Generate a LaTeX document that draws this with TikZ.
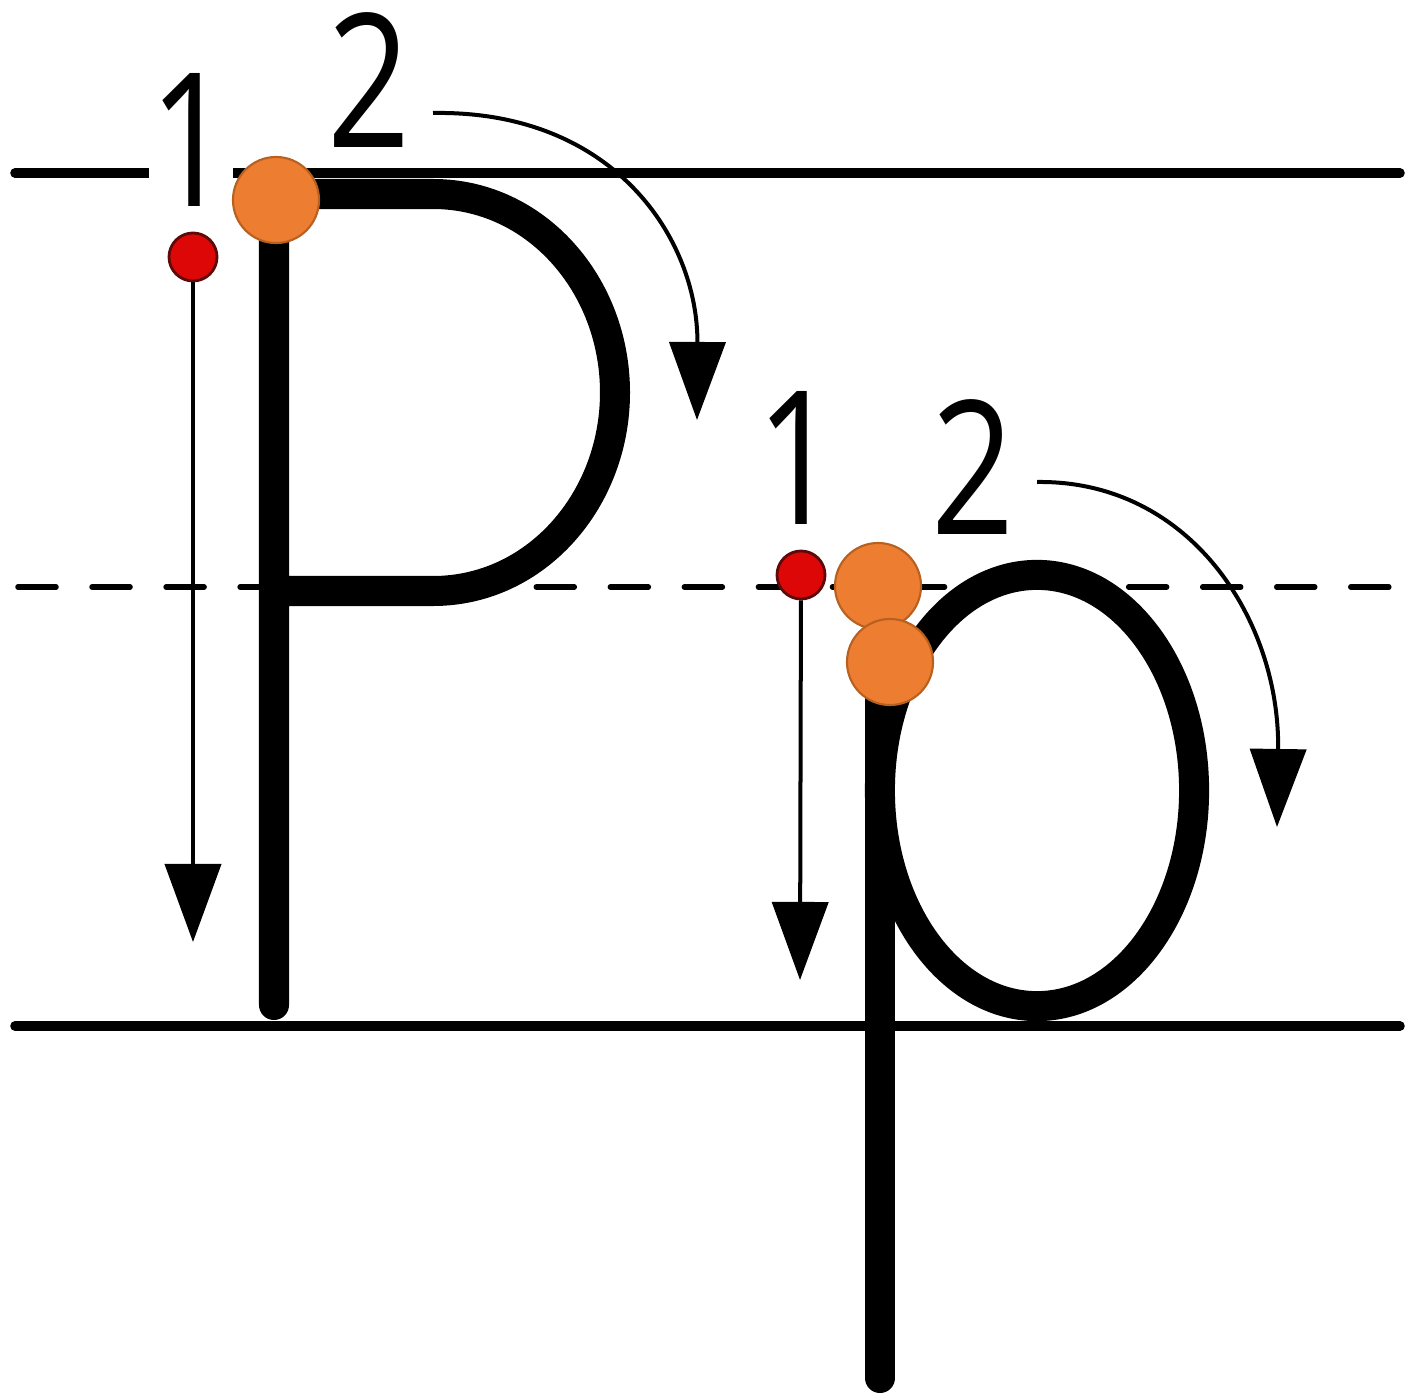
\documentclass[tikz,border=0pt]{standalone}
\usepackage{fontspec}
\newfontfamily\digitfont[FakeStretch=0.78]{Open Sans}
\usetikzlibrary{arrows.meta}
\definecolor{dotorange}{HTML}{ED7D31}
\definecolor{dotorangeline}{HTML}{B8601F}
\definecolor{dotred}{HTML}{DD0707}
\definecolor{dotredline}{HTML}{5E0A0A}

\begin{document}
\begin{tikzpicture}[
  x=0.01cm, y=-0.01cm,
  rule/.style={line width=0.95mm, line cap=round},
  midrule/.style={line width=0.55mm, line cap=round, dash pattern=on 3.8mm off 3.6mm},
  letterstroke/.style={line width=3mm, line cap=round, line join=round},
  num/.style={font=\digitfont\fontsize{53}{53}\selectfont, inner sep=0pt, fill=white},
  startdot/.style={circle, fill=dotorange, draw=dotorangeline, line width=0.6pt,
                   minimum size=8.6mm, inner sep=0pt},
  reddot/.style={circle, fill=dotred, draw=dotredline, line width=0.8pt,
                 minimum size=4.8mm, inner sep=0pt},
  strokearrow/.style={line width=0.4mm, -{Triangle[width=5.6mm,length=7.8mm]}}
]
\useasboundingbox (0,0) rectangle (1409,1397);

% guide lines
\draw[rule] (15,173) -- (1400,173);
\draw[midrule] (18,587) -- (1390,587);
\draw[rule] (15,1026) -- (1400,1026);

% capital P
\draw[letterstroke] (274,1005) -- (274,194) -- (433,194)
  .. controls (536,194) and (615,285) .. (615,392.5)
  .. controls (615,500) and (536,591) .. (433,591) -- (274,591);

% small p
\draw[letterstroke] (880,662) -- (880,1378);
\draw[letterstroke] (1037,790.5) ellipse [x radius=1.57cm, y radius=2.155cm];

% stroke numbers
\node[num] (oneP) at (191,140) {1};
\node[num] (twoP) at (369,80) {2};
\node[num] (onep) at (798,458) {1};
\node[num] (twop) at (973,467) {2};

% first strokes
\node[reddot] (redP) at (193,257) {};
\node[reddot] (redp) at (801,575) {};
\coordinate (endP) at (193,942);
\coordinate (endp) at (800,980);
\draw[strokearrow] (redP) -- (endP);
\draw[strokearrow] (redp) -- (endp);

% second strokes
\coordinate (arcP) at (433,113);
\coordinate (tipP) at (697,420);
\coordinate (arcp) at (1037,482);
\coordinate (tipp) at (1277,827);
\draw[strokearrow] (arcP) .. controls (615,110) and (698,240) .. (tipP);
\draw[strokearrow] (arcp) .. controls (1190,480) and (1280,620) .. (tipp);

% starting points
\node[startdot] (startP) at (276,200) {};
\node[startdot] (startp) at (878,586) {};
\node[startdot] (startpb) at (890,662) {};
\end{tikzpicture}
\end{document}
